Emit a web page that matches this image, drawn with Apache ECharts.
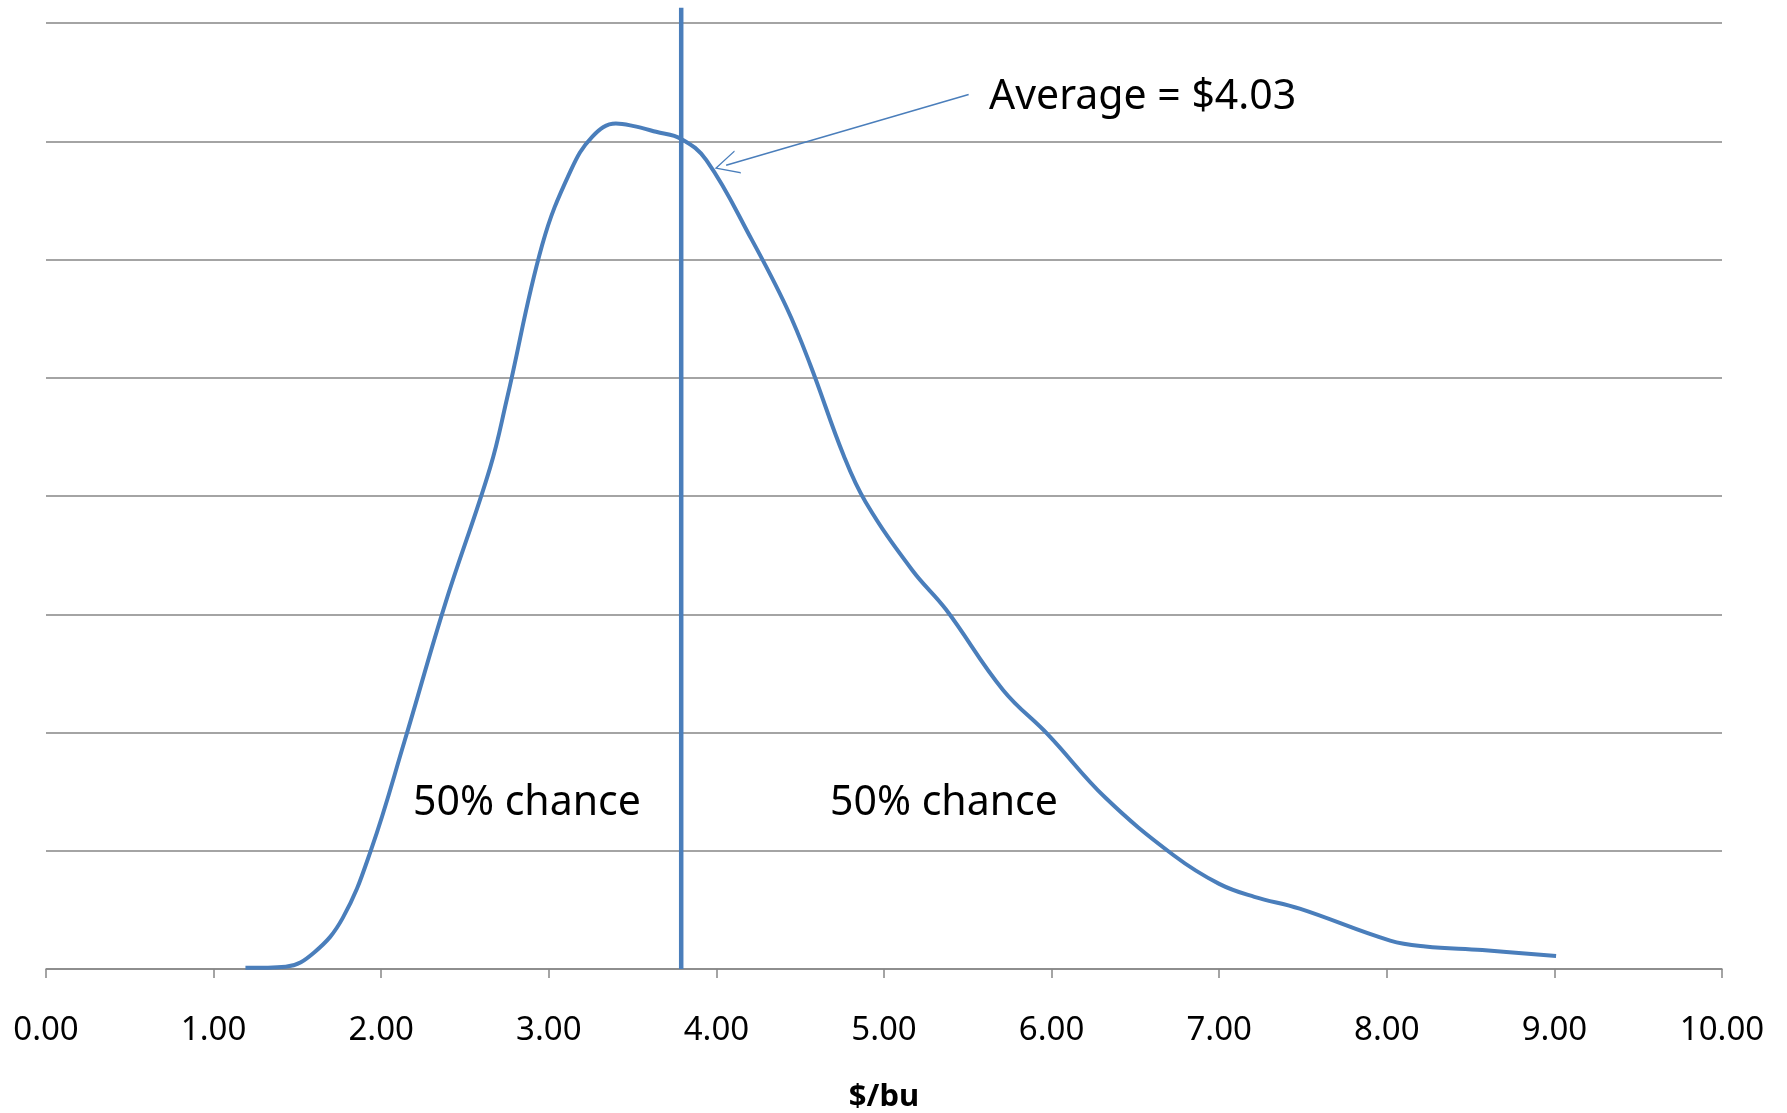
<!DOCTYPE html>
<html>
<head>
<meta charset="utf-8">
<script src="https://cdn.jsdelivr.net/npm/echarts@6/dist/echarts.min.js"></script>
<style>
  html, body { margin: 0; padding: 0; background: #fff; }
  #chart { width: 1787px; height: 1113px; }
</style>
</head>
<body>
<div id="chart"></div>
<script>
// price distribution ($/bu)
const priceX = [1.19, 1.43, 1.60, 1.77, 1.94, 2.14, 2.38, 2.65, 2.75, 2.96, 3.13, 3.26, 3.40, 3.50, 3.64, 3.79,
  3.94, 4.21, 4.42, 4.56, 4.76, 4.89, 5.17, 5.37, 5.71, 5.98, 6.32, 6.73, 7.00, 7.21, 7.48, 8.02, 8.23, 8.57, 9.01];
const density = [0.01, 0.02, 0.14, 0.43, 1.01, 1.93, 3.08, 4.24, 4.82, 6.12, 6.75, 7.04, 7.15, 7.13, 7.08, 7.02,
  6.84, 6.17, 5.59, 5.11, 4.34, 3.95, 3.37, 3.04, 2.36, 1.98, 1.45, 0.96, 0.72, 0.61, 0.51, 0.24, 0.19, 0.16, 0.11];

const xTicks = [0, 1, 2, 3, 4, 5, 6, 7, 8, 9, 10];
const splitX = 3.79;         // vertical divider
const dividerTop = 8.13;     // sticks a bit above the top grid line
const arrowFrom = [5.505, 7.395];
const arrowTo = [4.058, 6.797]; // symbol is centred here, the tip lands a bit further on

const blue = "#4a7ebb";
const curve = priceX.map((x, i) => [x, density[i]]);

let myChart = echarts.init(document.getElementById("chart"));
let option = {
  animation: false,
  grid: {
    left: 46,
    right: 65,
    top: 23,
    bottom: 144,
    outerBoundsMode: "none"
  },
  xAxis: {
    type: "value",
    min: xTicks[0],
    max: xTicks[xTicks.length - 1],
    interval: 1,
    name: "$/bu",
    nameLocation: "middle",
    nameGap: 113,
    nameTextStyle: {
      fontFamily: "Noto Sans",
      fontWeight: "bold",
      fontSize: 31,
      color: "#000"
    },
    axisLine: { lineStyle: { color: "#868686", width: 1.5 } },
    axisTick: { show: true, length: 9, lineStyle: { color: "#868686", width: 1.5 } },
    splitLine: { show: false },
    axisLabel: {
      margin: 45,
      fontFamily: "Noto Sans",
      fontSize: 33,
      color: "#000",
      formatter: v => v.toFixed(2)
    }
  },
  yAxis: {
    type: "value",
    min: 0,
    max: 8,
    interval: 1,
    axisLine: { show: false },
    axisTick: { show: false },
    axisLabel: { show: false },
    splitLine: { lineStyle: { color: "#868686", width: 1.5 } }
  },
  series: [
    {
      name: "distribution",
      type: "line",
      smooth: 0.4,
      symbol: "none",
      lineStyle: { color: blue, width: 4 },
      data: curve,
      markLine: {
        silent: true,
        symbol: ["none", "path://M0,0 L10,20 L8.8,20 L0,2.4 L-8.8,20 L-10,20 Z"],
        symbolSize: [24, 24],
        label: { show: false },
        lineStyle: { color: blue, width: 1.5, type: "solid" },
        data: [[{ coord: arrowFrom }, { coord: arrowTo }]]
      }
    },
    {
      name: "divider",
      type: "line",
      symbol: "none",
      clip: false,
      lineStyle: { color: blue, width: 4.5 },
      data: [[splitX, 0], [splitX, dividerTop]]
    }
  ],
  graphic: [
    {
      type: "text",
      left: 989,
      top: 77,
      style: { text: "Average = $4.03", font: "41px 'Noto Sans'", fill: "#000" }
    },
    {
      type: "text",
      left: 413,
      top: 783,
      style: { text: "50% chance", font: "41px 'Noto Sans'", fill: "#000" }
    },
    {
      type: "text",
      left: 830,
      top: 783,
      style: { text: "50% chance", font: "41px 'Noto Sans'", fill: "#000" }
    }
  ]
};
option && myChart.setOption(option);
</script>
</body>
</html>
